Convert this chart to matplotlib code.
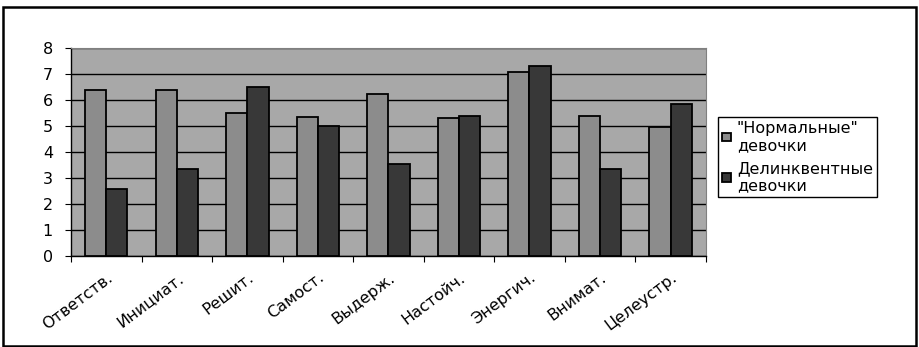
import numpy as np
import matplotlib
matplotlib.use("Agg")
import matplotlib.pyplot as plt
from matplotlib.patches import Rectangle

# data
categories = ['Ответств.', 'Инициат.', 'Решит.', 'Самост.', 'Выдерж.',
              'Настойч.', 'Энергич.', 'Внимат.', 'Целеустр.']
normal_girls = [6.36, 6.36, 5.50, 5.35, 6.22, 5.29, 7.08, 5.38, 4.95]
delinquent_girls = [2.57, 3.32, 6.50, 5.00, 3.55, 5.38, 7.29, 3.32, 5.85]
series_names = ['"Нормальные"\nдевочки', 'Делинквентные\nдевочки']
yticks = [0, 1, 2, 3, 4, 5, 6, 7, 8]

plt.rcParams['font.family'] = ['DejaVu Sans']

fig = plt.figure(figsize=(9.19, 3.47), dpi=100)
ax = fig.add_axes([0.0773, 0.2622, 0.6907, 0.6008])

x = np.arange(len(categories))
w = 0.3
ax.bar(x - w/2, normal_girls, w, color='#8c8c8c', edgecolor='black',
       linewidth=1.3, label=series_names[0], zorder=3)
ax.bar(x + w/2, delinquent_girls, w, color='#383838', edgecolor='black',
       linewidth=1.3, label=series_names[1], zorder=3)

ax.set_facecolor('#a8a8a8')
ax.set_xlim(-0.5, len(categories) - 0.5)
ax.set_ylim(0, 8)
ax.set_yticks(yticks)
ax.yaxis.grid(True, color='black', linewidth=1.0, zorder=1)
ax.set_axisbelow(True)
for s in ['top', 'right']:
    ax.spines[s].set_color('#808080')
    ax.spines[s].set_linewidth(0.8)
ax.spines['left'].set_linewidth(1.0)
ax.spines['bottom'].set_linewidth(1.0)

ax.set_xticks(np.arange(len(categories) + 1) - 0.5)
ax.set_xticklabels([])
ax.set_xticks(x + 0.0, minor=True)
ax.set_xticklabels(categories, minor=True, rotation=37, ha='right',
                   rotation_mode='anchor', fontsize=11.5)
ax.tick_params(axis='x', which='minor', length=0, pad=10)
ax.tick_params(axis='x', which='major', length=4, direction='out')
ax.tick_params(axis='y', length=4, labelsize=11.5, pad=9)

leg = fig.legend(loc='upper left', bbox_to_anchor=(0.781, 0.664),
                 fontsize=11.5, frameon=True, fancybox=False,
                 edgecolor='black', framealpha=1, handlelength=0.55,
                 handleheight=0.45, handletextpad=0.4, borderpad=0.25,
                 labelspacing=0.5, borderaxespad=0)
leg.get_frame().set_linewidth(1.0)
for t in leg.get_texts():
    t.set_linespacing(1.2)

# outer chart frame
fig.patches.append(Rectangle((3/919, 1 - 345.5/347), 912.5/919, 338.5/347,
                             transform=fig.transFigure, fill=False,
                             edgecolor='black', linewidth=1.8))

fig.savefig('out.png', dpi=100)
